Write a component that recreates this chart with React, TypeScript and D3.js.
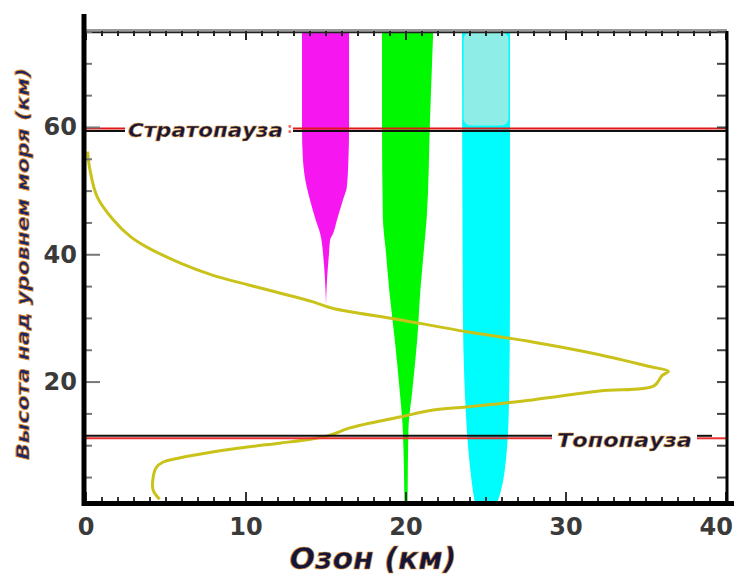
import React from "react";
import * as d3 from "d3";

// tick labels
const xTicks = [0, 10, 20, 30, 40];
const yTicks = [20, 40, 60];

// ozone profile (altitude km, ozone value)
const ozoneAlt = [1.6, 3.0, 5.1, 6.6, 7.4, 8.1, 9.0, 9.8, 10.4, 11.1, 11.7, 12.8, 14.5, 15.6, 16.1, 17.2, 18.6, 19.4, 21.0, 21.7, 22.4, 24.3, 26.3, 27.9, 29.8, 31.6, 32.6, 34.0, 35.3, 36.8, 38.7, 41.2, 42.8, 45.5, 49.1, 53.3, 56.2];
const ozoneVal = [4.6, 4.2, 4.2, 4.4, 4.8, 5.9, 7.9, 10.1, 12.1, 14.2, 15.3, 16.5, 19.6, 21.7, 23.8, 27.9, 32.1, 35.5, 36.0, 36.4, 35.3, 32.1, 27.9, 23.8, 19.6, 15.4, 14.2, 12.1, 10.1, 7.9, 5.9, 3.8, 2.8, 1.7, 0.7, 0.25, 0.1];

// bands: [altitude, left, right]
const magentaBand: [number, number, number][] = [
  [32.2, 15.0, 15.0], [36.0, 14.94, 15.06], [40.3, 14.81, 15.19], [42.3, 14.72, 15.25],
  [43.4, 14.63, 15.45], [45.5, 14.35, 15.69], [48.6, 14.0, 16.06], [50.6, 13.8, 16.3],
  [54.9, 13.56, 16.4], [59.9, 13.5, 16.44], [75, 13.5, 16.44],
];
const greenBand: [number, number, number][] = [
  [1, 19.9, 20.1], [12.5, 19.8, 20.15], [18.8, 19.6, 20.4], [26.6, 19.3, 20.7],
  [34.5, 18.95, 20.9], [40.3, 18.75, 21.1], [46.0, 18.55, 21.3], [61.2, 18.5, 21.5], [75, 18.5, 21.7],
];
const cyanBand: [number, number, number][] = [
  [1, 24.3, 25.7], [2.6, 24.2, 25.9], [9.3, 23.9, 26.3], [17.2, 23.7, 26.44],
  [32.9, 23.55, 26.5], [75, 23.5, 26.5],
];

const stratopause = 59.7;
const tropopause = 11.4;

export default function App() {
  const width = 734;
  const height = 576;

  const x = d3.scaleLinear().domain([0, 40]).range([86, 726]);
  const y = d3.scaleLinear().domain([1, 75]).range([503, 32]);

  const band = d3
    .area<[number, number, number]>()
    .y((d) => y(d[0]))
    .x0((d) => x(d[1]))
    .x1((d) => x(d[2]))
    .curve(d3.curveMonotoneY);

  const ozonePts: [number, number][] = ozoneAlt.map((a, i) => [ozoneVal[i], a]);
  const ozoneLine = d3
    .line<[number, number]>()
    .x((d) => x(d[0]))
    .y((d) => y(d[1]))
    .curve(d3.curveCatmullRom.alpha(0.5));

  const minorX = d3.range(0, 41, 1);
  const minorY = d3.range(5, 76, 5);

  const ys = y(stratopause);
  const yt = y(tropopause);

  const labelStyle = {
    fontFamily: "DejaVu Sans",
    fontWeight: "bold" as const,
    fontStyle: "italic" as const,
  };

  return (
    <svg
      width={width}
      height={height}
      style={{ position: "absolute", left: 0, top: 0, background: "#fff" }}
    >
      {/* bands */}
      <path d={band(magentaBand) || ""} fill="#f516f0" />
      <path d={band(greenBand) || ""} fill="#00f900" />
      <path d={band(cyanBand) || ""} fill="#00fdfd" />
      <rect
        x={x(23.6)}
        y={y(75)}
        width={x(26.4) - x(23.6)}
        height={y(60.3) - y(75)}
        rx={7}
        fill="#8eede6"
      />

      {/* ozone profile */}
      <path d={ozoneLine(ozonePts) || ""} fill="none" stroke="#c9c21a" strokeWidth={3} />

      {/* stratopause */}
      <line x1={84} x2={125} y1={ys - 1} y2={ys - 1} stroke="#e01818" strokeWidth={2} />
      <line x1={84} x2={125} y1={ys + 1.5} y2={ys + 1.5} stroke="#111" strokeWidth={2} />
      <line x1={293} x2={727} y1={ys - 1} y2={ys - 1} stroke="#e01818" strokeWidth={2} />
      <line x1={293} x2={727} y1={ys + 1.5} y2={ys + 1.5} stroke="#111" strokeWidth={2} />
      <text x={287} y={ys + 4} fill="#f07070" fontSize={14} fontWeight="bold" fontFamily="DejaVu Sans">:</text>
      <text
        x={128}
        y={ys + 8}
        fontSize={20}
        textLength={155}
        lengthAdjust="spacingAndGlyphs"
        fill="#16163a"
        stroke="#d8902c"
        strokeWidth={0.5}
        style={labelStyle}
      >
        Стратопауза
      </text>

      {/* tropopause */}
      <line x1={84} x2={552} y1={yt + 1.5} y2={yt + 1.5} stroke="#e83030" strokeWidth={2} />
      <line x1={84} x2={552} y1={yt - 1} y2={yt - 1} stroke="#111" strokeWidth={2} />
      <line x1={697} x2={727} y1={yt + 1.5} y2={yt + 1.5} stroke="#e83030" strokeWidth={2} />
      <line x1={697} x2={712} y1={yt - 1} y2={yt - 1} stroke="#111" strokeWidth={2} />
      <text
        x={557}
        y={yt + 10}
        fontSize={20}
        textLength={135}
        lengthAdjust="spacingAndGlyphs"
        fill="#16163a"
        stroke="#d8902c"
        strokeWidth={0.5}
        style={labelStyle}
      >
        Топопауза
      </text>

      {/* frame: top */}
      <line x1={84} x2={727} y1={31} y2={31} stroke="#999" strokeWidth={4} />
      <line x1={84} x2={727} y1={32.5} y2={32.5} stroke="#222" strokeWidth={1.5} />
      {minorX.map((v) => (
        <line
          key={"t" + v}
          x1={x(v)}
          x2={x(v)}
          y1={31}
          y2={v % 10 === 0 ? 40 : 36}
          stroke="#222"
          strokeWidth={2}
        />
      ))}
      {/* bottom */}
      {minorX.map((v) => (
        <line
          key={"b" + v}
          x1={x(v)}
          x2={x(v)}
          y1={503}
          y2={v % 10 === 0 ? 492 : 497}
          stroke="#333"
          strokeWidth={2}
        />
      ))}
      <line x1={82} x2={734} y1={503.5} y2={503.5} stroke="#000" strokeWidth={5} />
      {/* right */}
      {minorY.map((v) => (
        <line key={"r" + v} x1={717} x2={727} y1={y(v)} y2={y(v)} stroke="#444" strokeWidth={2} />
      ))}
      <line x1={727} x2={727} y1={31} y2={506} stroke="#000" strokeWidth={3} />
      {/* left */}
      {minorY.map((v) => (
        <line
          key={"l" + v}
          x1={84}
          x2={yTicks.includes(v) ? 100 : 92}
          y1={y(v)}
          y2={y(v)}
          stroke="#777"
          strokeWidth={2}
        />
      ))}
      <line x1={84} x2={84} y1={14} y2={506} stroke="#000" strokeWidth={5} />

      {/* tick labels */}
      {xTicks.map((v) => {
        const last = v === xTicks[xTicks.length - 1];
        return (
          <text
            key={"xl" + v}
            x={last ? width - 1 : x(v)}
            y={535}
            textAnchor={last ? "end" : "middle"}
            fontSize={24}
            fontWeight="bold"
            fontFamily="DejaVu Sans"
            fill="#3a3a3a"
          >
            {v}
          </text>
        );
      })}
      {yTicks.map((v) => (
        <text
          key={"yl" + v}
          x={77}
          y={y(v) + 8}
          textAnchor="end"
          fontSize={24}
          fontWeight="bold"
          fontFamily="DejaVu Sans"
          fill="#3a3a3a"
        >
          {v}
        </text>
      ))}

      {/* axis titles */}
      <text
        x={373}
        y={569}
        textAnchor="middle"
        fontSize={30}
        fill="#15153a"
        stroke="#d8902c"
        strokeWidth={0.6}
        style={labelStyle}
      >
        Озон (км)
      </text>
      <text
        transform="translate(29, 264) rotate(-90)"
        textAnchor="middle"
        fontSize={18}
        textLength={392}
        lengthAdjust="spacingAndGlyphs"
        fill="#1d2660"
        stroke="#e08a1e"
        strokeWidth={0.7}
        style={labelStyle}
      >
        Высота над уровнем моря (км)
      </text>
    </svg>
  );
}
